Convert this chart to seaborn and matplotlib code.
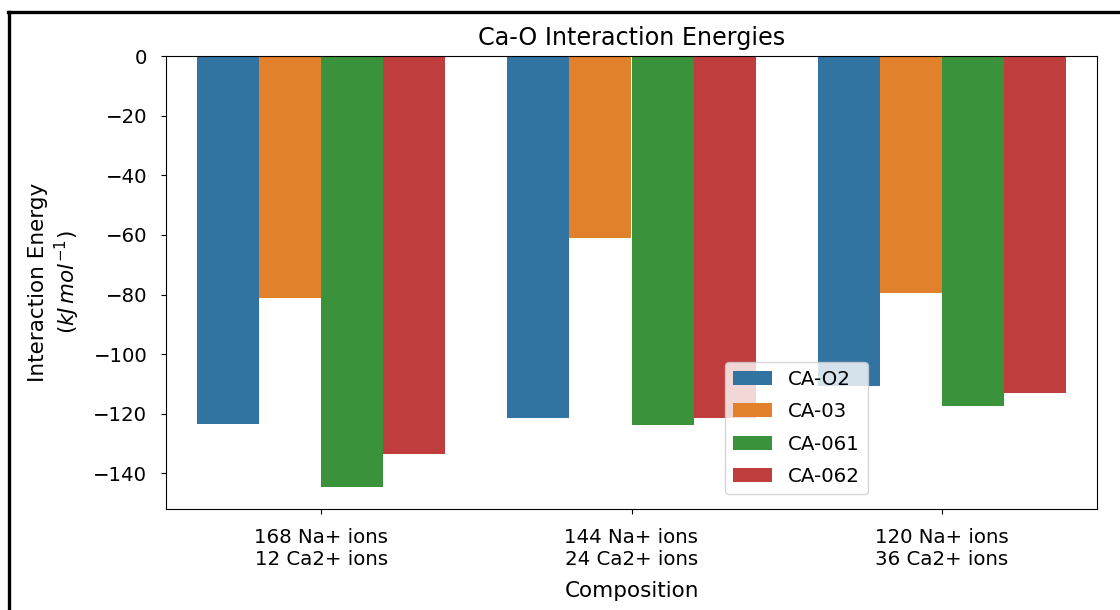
import matplotlib
matplotlib.use("Agg")
import matplotlib.pyplot as plt
from matplotlib.lines import Line2D
import pandas as pd
import seaborn as sns

# Compositions on the x axis
compositions = ["168 Na+ ions\n12 Ca2+ ions",
                "144 Na+ ions\n24 Ca2+ ions",
                "120 Na+ ions\n36 Ca2+ ions"]

# Interaction energies (kJ/mol) per oxygen type
ca_o2 = [-123.5, -121.5, -110.7]
ca_03 = [-81.1, -60.9, -79.4]
ca_061 = [-144.7, -123.9, -117.5]
ca_062 = [-133.6, -121.5, -113.1]

series_names = ["CA-O2", "CA-03", "CA-061", "CA-062"]
series_values = [ca_o2, ca_03, ca_061, ca_062]

rows = []
for name, vals in zip(series_names, series_values):
    for comp, v in zip(compositions, vals):
        rows.append({"Composition": comp, "Interaction Energy": v, "Type": name})
df = pd.DataFrame(rows)

W, H = 1120, 610
fig = plt.figure(figsize=(W / 100, H / 100), dpi=100)
ax = fig.add_axes([166 / W, 1 - 509 / H, (1097 - 166) / W, (509 - 56) / H])

sns.barplot(data=df, x="Composition", y="Interaction Energy", hue="Type",
            hue_order=series_names, order=compositions, ax=ax)

ax.set_title("Ca-O Interaction Energies", fontsize=17.2, pad=8)
ax.set_xlabel("Composition", fontsize=15.5, labelpad=9)
ax.set_ylabel("Interaction Energy\n($kJ\\,mol^{-1}$)", fontsize=15.5, labelpad=8)
ax.tick_params(axis="x", labelsize=14.2, pad=10)
ax.tick_params(axis="y", labelsize=14.2, pad=10)
ax.legend(title=None, fontsize=14.2, loc="upper left",
          bbox_to_anchor=((725 - 166) / 931, (509 - 362) / 453),
          borderaxespad=0, labelspacing=0.68)

# Frame lines along the top and left of the canvas
fig.add_artist(Line2D([9 / W, 9 / W], [0, 1 - 12 / H], color="black", lw=2.4,
                      transform=fig.transFigure))
fig.add_artist(Line2D([8 / W, 1], [1 - 12 / H, 1 - 12 / H], color="black", lw=2.4,
                      transform=fig.transFigure))

fig.savefig("out.png", dpi=100)
